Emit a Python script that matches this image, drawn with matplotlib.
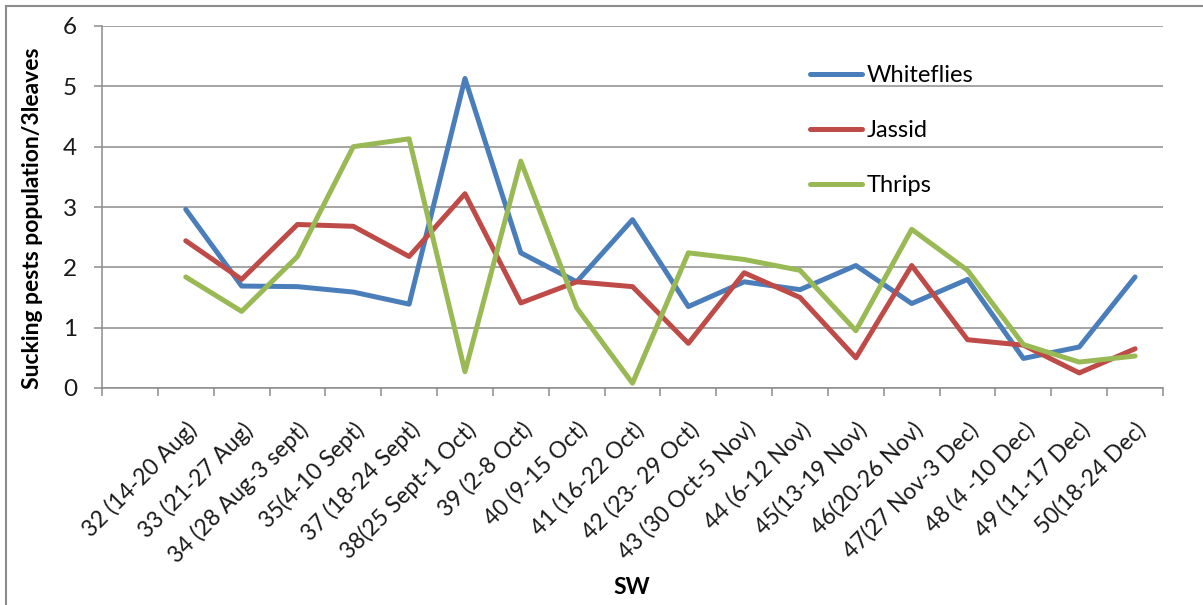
import numpy as np
import matplotlib
matplotlib.use("Agg")
import matplotlib.pyplot as plt
from matplotlib.patches import Rectangle

plt.rcParams['font.family'] = ['Lato', 'DejaVu Sans']

# standard weeks (SW) of the season
weeks = [
    "32 (14-20 Aug)", "33 (21-27 Aug)", "34 (28 Aug-3 sept)", "35(4-10 Sept)",
    "37 (18-24 Sept)", "38(25 Sept-1 Oct)", "39 (2-8 Oct)", "40 (9-15 Oct)",
    "41 (16-22 Oct)", "42 (23- 29 Oct)", "43 (30 Oct-5 Nov)", "44 (6-12 Nov)",
    "45(13-19 Nov)", "46(20-26 Nov)", "47(27 Nov-3 Dec)", "48 (4 -10 Dec)",
    "49 (11-17 Dec)", "50(18-24 Dec)",
]

whiteflies = [2.96, 1.69, 1.68, 1.59, 1.39, 5.13, 2.24, 1.76, 2.79,
              1.35, 1.76, 1.63, 2.03, 1.40, 1.80, 0.49, 0.68, 1.84]
jassid = [2.44, 1.80, 2.71, 2.68, 2.18, 3.22, 1.41, 1.76, 1.68,
          0.74, 1.91, 1.50, 0.50, 2.03, 0.80, 0.71, 0.25, 0.65]
thrips = [1.84, 1.27, 2.18, 4.00, 4.13, 0.27, 3.76, 1.33, 0.08,
          2.24, 2.13, 1.95, 0.95, 2.63, 1.95, 0.72, 0.43, 0.53]

series = [("Whiteflies", whiteflies, "#4A7EBB"),
          ("Jassid", jassid, "#BE4B48"),
          ("Thrips", thrips, "#98B954")]

W, H = 1203, 605
fig = plt.figure(figsize=(W / 100, H / 100), dpi=100)
ax = fig.add_axes([102 / W, 1 - 388 / H, (1163 - 102) / W, (388 - 26) / H])

# one empty slot at the start of the category axis
n_slots = len(weeks) + 1
x = np.arange(len(weeks)) + 1.5

for name, vals, col in series:
    ax.plot(x, vals, color=col, lw=3.6, label=name,
            solid_joinstyle='round', solid_capstyle='round')

grid_col = "#8c8c8c"
ax.set_xlim(0, n_slots)
ax.set_ylim(0, 6)
ax.set_yticks(range(0, 7))
ax.yaxis.grid(True, color=grid_col, lw=1.1)
ax.set_axisbelow(True)

ax.set_xticks(x)
ax.set_xticklabels(weeks, rotation=45, ha='right', rotation_mode='anchor',
                   fontsize=16.5, color="#1a1a1a")
ax.set_xticks(np.arange(0, n_slots + 1), minor=True)
ax.tick_params(axis='x', which='major', length=0, pad=22)
ax.tick_params(axis='x', which='minor', length=6, width=1.1, color=grid_col,
               direction='out')
ax.tick_params(axis='y', length=6, width=1.1, color=grid_col, direction='out',
               labelsize=17.5, pad=12, labelcolor="#1a1a1a")

for side in ("top", "right"):
    ax.spines[side].set_visible(False)
for side in ("left", "bottom"):
    ax.spines[side].set_color(grid_col)
    ax.spines[side].set_linewidth(1.1)

fig.text(33 / W, 1 - 218 / H, "Sucking pests population/3leaves", rotation=90,
         ha='center', va='center', fontsize=16.5, fontweight='bold')
fig.text(632 / W, 1 - 588 / H, "SW", ha='center', va='center',
         fontsize=16.5, fontweight='bold')

ax.legend(loc='upper left', bbox_to_anchor=(810 / W, 1 - 65 / H),
          bbox_transform=fig.transFigure, frameon=False, fontsize=17,
          handlelength=2.2, handletextpad=0.2, labelspacing=1.45,
          borderpad=0, borderaxespad=0)

# chart area border
fig.patches.append(Rectangle((6 / W, -0.1), 1.2, 1.1 - 6 / H, fill=False,
                             edgecolor="#8c8c8c", lw=1.5,
                             transform=fig.transFigure, figure=fig))

fig.savefig("out.png", dpi=100)
